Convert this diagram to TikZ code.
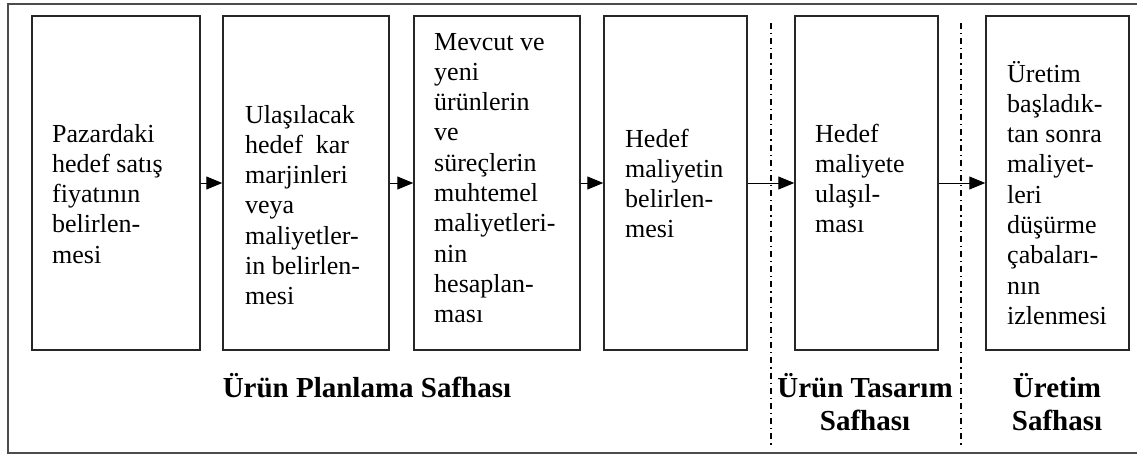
\documentclass[tikz,border=0pt]{standalone}
\usepackage{fontspec}
\setmainfont{Liberation Serif}
\usetikzlibrary{arrows.meta}

\begin{document}
\begin{tikzpicture}[x=1pt,y=-1pt,
  stagebox/.style={draw=black!85,line width=1.5pt,rectangle,minimum height=334pt,inner sep=0pt},
  boxtext/.style={anchor=base west,inner sep=0pt,text width=125pt,align=flush left,
    font=\fontsize{26}{30.3}\selectfont},
  phaselabel/.style={anchor=base,inner sep=0pt,text width=200pt,align=flush center,
    font=\bfseries\fontsize{29}{33}\selectfont},
  flow/.style={line width=1pt,-{Triangle[length=16pt,width=13pt]}},
  divider/.style={line width=1.2pt,dash pattern=on 6pt off 4pt on 1.2pt off 4pt}]

\useasboundingbox (0,0) rectangle (1137,455);

% outer frame
\draw[line width=1.6pt,draw=black!70] (8,4) rectangle (1142,453);

% stage boxes
\node[stagebox,minimum width=168pt] (b1) at (116,183) {};
\node[stagebox,minimum width=166pt] (b2) at (306,183) {};
\node[stagebox,minimum width=166pt] (b3) at (497,183) {};
\node[stagebox,minimum width=143pt] (b4) at (675.5,183) {};
\node[stagebox,minimum width=143pt] (b5) at (866.5,183) {};
\node[stagebox,minimum width=143pt] (b6) at (1057.5,183) {};

% box texts
\node[boxtext] (t1) at (52,142) {Pazardaki\\hedef satış\\fiyatının\\belirlen-\\mesi};
\node[boxtext] (t2) at (245,123) {Ulaşılacak\\hedef\ \ kar\\marjinleri\\veya\\maliyetler-\\in belirlen-\\mesi};
\node[boxtext] (t3) at (434,50) {Mevcut ve\\yeni\\ürünlerin\\ve\\süreçlerin\\muhtemel\\maliyetleri-\\nin\\hesaplan-\\ması};
\node[boxtext] (t4) at (625,147) {Hedef\\maliyetin\\belirlen-\\mesi};
\node[boxtext] (t5) at (815,142) {Hedef\\maliyete\\ulaşıl-\\ması};
\node[boxtext] (t6) at (1007,82) {Üretim\\başladık-\\tan sonra\\maliyet-\\leri\\düşürme\\çabaları-\\nın\\izlenmesi};

% flow arrows
\draw[flow] (b1.east) -- (b2.west);
\draw[flow] (b2.east) -- (b3.west);
\draw[flow] (b3.east) -- (b4.west);
\draw[flow] (b4.east) -- (b5.west);
\draw[flow] (b5.east) -- (b6.west);

% phase dividers
\coordinate (d1t) at (771,23);
\coordinate (d1b) at (771,446);
\coordinate (d2t) at (961,23);
\coordinate (d2b) at (961,446);
\draw[divider] (d1t) -- (d1b);
\draw[divider] (d2t) -- (d2b);

% phase labels
\node[phaselabel,text width=360pt] (p1) at (367,397) {Ürün Planlama Safhası};
\node[phaselabel] (p2) at (865,397) {Ürün Tasarım\\Safhası};
\node[phaselabel] (p3) at (1057,397) {Üretim\\Safhası};
\end{tikzpicture}
\end{document}
